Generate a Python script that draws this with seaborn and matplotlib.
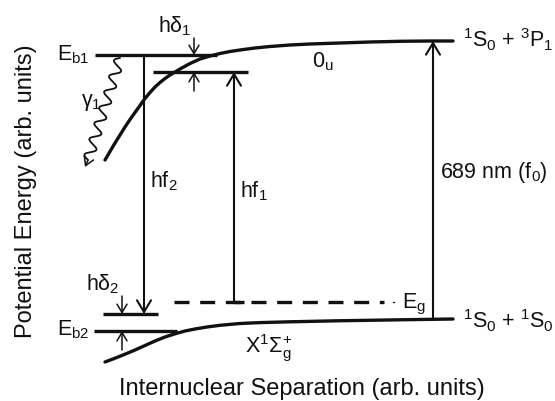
import numpy as np
import pandas as pd
import matplotlib
matplotlib.use("Agg")
import matplotlib.pyplot as plt
import seaborn as sns

# ---- data (diagram coordinates, arbitrary units = pixel grid of the figure) ----
upper_x = [105, 110, 115, 120, 125, 130, 135, 140, 145, 150, 155, 160, 165, 170, 175, 180,
           190, 200, 210, 220, 230, 240, 255, 270, 290, 310, 340, 370, 400, 430, 453]
upper_y = [160, 151.5, 143, 135, 127, 119.5, 112.5, 105.5, 98.5, 92.5, 87, 82.5, 78.5, 75, 72, 69,
           63.5, 59, 56, 53.5, 51.5, 50, 48, 46.5, 45, 44, 43, 42, 41.3, 41, 41]
lower_x = [105, 115, 125, 135, 145, 155, 165, 175, 185, 195, 207, 220, 240, 260, 290, 337, 400, 453]
lower_y = [362, 358.2, 354.2, 350, 345.5, 341, 337, 333.8, 331, 329, 327, 325.3, 323.5, 322.6,
           321.8, 320.8, 319.8, 319]

E_b1 = 55
E_b1_exc = 72       # level reached by hf1
E_b2 = 331
E_b2_exc = 314      # level reached by hf2
E_g = 302
asym_up = 41
asym_low = 319

x_hf2 = 144
x_hf1 = 234
x_f0 = 433
x_d1 = 194
x_d2 = 122

sns.set_theme(style="white")
plt.rcParams['font.family'] = ['Liberation Sans', 'DejaVu Sans']
plt.rcParams['mathtext.fontset'] = 'custom'
plt.rcParams['mathtext.rm'] = 'Liberation Sans'
plt.rcParams['mathtext.it'] = 'Liberation Sans'
plt.rcParams['mathtext.bf'] = 'Liberation Sans'
plt.rcParams['mathtext.sf'] = 'Liberation Sans'

fig = plt.figure(figsize=(5.55, 4.01), dpi=100)
ax = fig.add_axes([0, 0, 1, 1])
ax.set_xlim(0, 555)
ax.set_ylim(401, 0)
ax.axis('off')

k = '#111111'
lw_thick = 2.4
lw_thin = 1.5

up = pd.DataFrame({'x': upper_x, 'y': upper_y})
lo = pd.DataFrame({'x': lower_x, 'y': lower_y})
sns.lineplot(data=up, x='x', y='y', sort=False, color=k, lw=lw_thick, ax=ax)
sns.lineplot(data=lo, x='x', y='y', sort=False, color=k, lw=lw_thick, ax=ax)

# levels
ax.plot([95, 217], [E_b1, E_b1], color=k, lw=lw_thick, solid_capstyle='butt')
ax.plot([153, 248], [E_b1_exc, E_b1_exc], color=k, lw=lw_thick, solid_capstyle='butt')
ax.plot([94, 177], [E_b2, E_b2], color=k, lw=lw_thick, solid_capstyle='butt')
ax.plot([103, 158], [E_b2_exc, E_b2_exc], color=k, lw=lw_thick, solid_capstyle='butt')
ax.plot([174, 384], [E_g, E_g], color=k, lw=lw_thick, dashes=(4.5, 3.2), dash_capstyle='butt')
ax.plot([392.5, 393.5], [E_g, E_g], color=k, lw=1.0)

ap = dict(arrowstyle='->,head_length=0.7,head_width=0.42', color=k, lw=lw_thin,
          shrinkA=0, shrinkB=0)
# transitions
ax.annotate('', xy=(x_hf2, E_b2_exc), xytext=(x_hf2, E_b1), arrowprops=ap)
ax.plot([x_hf1, x_hf1 + 10], [E_g, E_g], color=k, lw=lw_thick, solid_capstyle='butt')
ax.annotate('', xy=(x_hf1, E_b1_exc), xytext=(x_hf1, E_g), arrowprops=ap)
ax.annotate('', xy=(x_f0, asym_up), xytext=(x_f0, asym_low), arrowprops=ap)
# small detuning arrows
aps = dict(arrowstyle='->,head_length=0.5,head_width=0.3', color=k, lw=1.1,
           shrinkA=0, shrinkB=0)
ax.annotate('', xy=(x_d1, E_b1), xytext=(x_d1, 38), arrowprops=aps)
ax.annotate('', xy=(x_d1, E_b1_exc), xytext=(x_d1, 91), arrowprops=aps)
ax.annotate('', xy=(x_d2, E_b2_exc), xytext=(x_d2, 296), arrowprops=aps)
ax.annotate('', xy=(x_d2, E_b2), xytext=(x_d2, 350), arrowprops=aps)

# wavy spontaneous emission gamma_1
t = np.linspace(0, 1, 400)
p0 = np.array([120, 58]); p1 = np.array([88, 160])
d = p1 - p0; L = np.hypot(*d); u = d / L; nrm = np.array([-u[1], u[0]])
amp = 5.0 * np.sin(2 * np.pi * 6.5 * t)
wx = p0[0] + d[0] * t + nrm[0] * amp
wy = p0[1] + d[1] * t + nrm[1] * amp
ax.plot(wx, wy, color=k, lw=1.3)
ax.annotate('', xy=(85, 167), xytext=(wx[-1], wy[-1]), arrowprops=aps)

fs = 15.5
fl = 17
def lab(x, y, s):
    ax.text(x, y, s, fontsize=fs, va='baseline', ha='left', color=k)

lab(57, 60, r'E$_{\mathregular{b1}}$')
lab(57, 335, r'E$_{\mathregular{b2}}$')
lab(158, 32, r'h$\delta_{\mathregular{1}}$')
lab(86, 290, r'h$\delta_{\mathregular{2}}$')
lab(81, 106, r'$\gamma_{\mathregular{1}}$')
lab(150, 187, r'hf$_{\mathregular{2}}$')
lab(240, 197, r'hf$_{\mathregular{1}}$')
lab(312, 67, r'0$_{\mathregular{u}}$')
lab(440, 178, r'689 nm (f$_{\mathregular{0}}$)')
lab(463, 47, r'$^{\mathregular{1}}$S$_{\mathregular{0}}$ + $^{\mathregular{3}}$P$_{\mathregular{1}}$')
lab(463, 328, r'$^{\mathregular{1}}$S$_{\mathregular{0}}$ + $^{\mathregular{1}}$S$_{\mathregular{0}}$')
lab(402, 308, r'E$_{\mathregular{g}}$')
lab(245, 353, r'X$^{\mathregular{1}}\Sigma_{\mathregular{g}}^{\mathregular{+}}$')

ax.text(32, 191, 'Potential Energy (arb. units)', fontsize=fl, rotation=90,
        rotation_mode='anchor', va='baseline', ha='center', color=k)
ax.text(302, 395, 'Internuclear Separation (arb. units)', fontsize=fl,
        va='baseline', ha='center', color=k)

fig.savefig('out.png', dpi=100)
